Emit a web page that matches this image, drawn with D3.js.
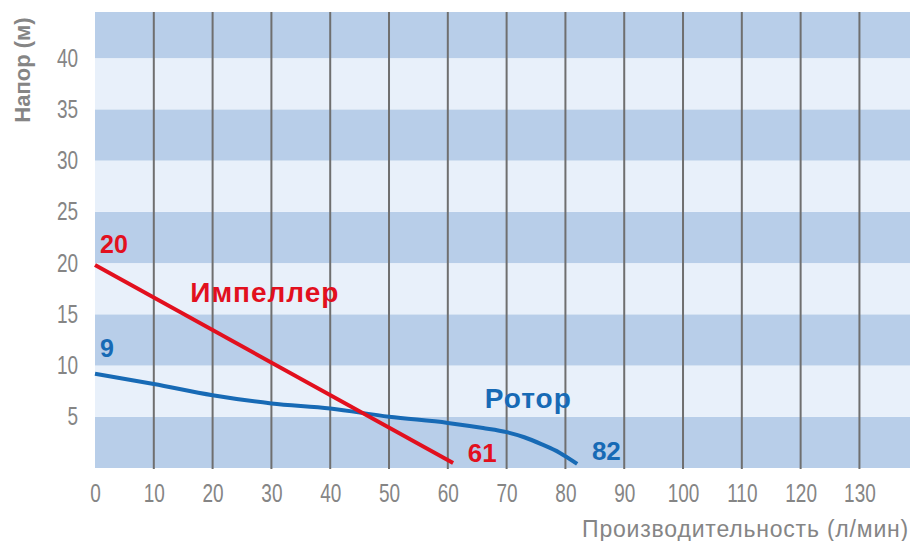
<!DOCTYPE html>
<html>
<head>
<meta charset="utf-8">
<script src="https://cdn.jsdelivr.net/npm/d3@7"></script>
<style>
  html, body { margin: 0; padding: 0; background: #fff; }
  svg { display: block; }
  .tick-label { font-family: "Liberation Sans", Arial, sans-serif; fill: #858585; }
  .curve-label { font-family: "Liberation Sans", Arial, sans-serif; font-weight: bold; }
</style>
</head>
<body>
<svg id="chart" width="912" height="541"></svg>
<script>
// x ticks (л/мин) and y ticks (м)
var xTicks = [0, 10, 20, 30, 40, 50, 60, 70, 80, 90, 100, 110, 120, 130];
var yTicks = [5, 10, 15, 20, 25, 30, 35, 40];
var bandStarts = [0, 5, 10, 15, 20, 25, 30, 35, 40];

// impeller curve
var impFlow = [0, 60.9];
var impHead = [19.8, 0.5];

// rotor curve
var rotFlow = [0, 10, 20, 30, 40, 50, 60, 66, 70, 73, 76, 79, 82];
var rotHead = [9.2, 8.2, 7.1, 6.3, 5.8, 5.0, 4.4, 3.9, 3.5, 3.0, 2.3, 1.5, 0.4];

var W = 912, H = 541;
var pad = {left: 95, right: 2, top: 12, bottom: 73};
var narrow = 0.76;

var svg = d3.select("#chart");

var x = d3.scaleLinear()
  .domain([0, 138.6])
  .range([pad.left, W - pad.right]);

var y = d3.scaleLinear()
  .domain([0, 44.5])
  .range([H - pad.bottom, pad.top]);

// striped background
svg.selectAll("rect.band")
  .data(bandStarts)
  .enter()
  .append("rect")
  .attr("class", "band")
  .attr("x", x(0))
  .attr("width", x.range()[1] - x(0))
  .attr("y", function(d) { return y(Math.min(d + 5, y.domain()[1])); })
  .attr("height", function(d) { return y(d) - y(Math.min(d + 5, y.domain()[1])); })
  .attr("fill", function(d) { return (d / 5) % 2 === 0 ? "#b8cee9" : "#e8f0fa"; });

// vertical grid
svg.selectAll("line.grid")
  .data(xTicks.filter(function(d) { return d > 0; }))
  .enter()
  .append("line")
  .attr("class", "grid")
  .attr("x1", function(d) { return x(d); })
  .attr("x2", function(d) { return x(d); })
  .attr("y1", y.range()[1])
  .attr("y2", y(0) + 1)
  .attr("stroke", "#6f6f6f")
  .attr("stroke-width", 2);

// axes
var xAxis = d3.axisBottom(x).tickValues(xTicks).tickSize(0).tickPadding(16);
var yAxis = d3.axisLeft(y).tickValues(yTicks).tickSize(0).tickPadding(17);

var gx = svg.append("g")
  .attr("transform", "translate(0," + y(0) + ")")
  .call(xAxis);
var gy = svg.append("g")
  .attr("transform", "translate(" + x(0) + ",0)")
  .call(yAxis);

[gx, gy].forEach(function(g) {
  g.select(".domain").remove();
  g.selectAll("text")
    .attr("class", "tick-label")
    .attr("font-size", 25)
    .attr("fill", "#858585")
    .attr("transform", "scale(" + narrow + ",1)");
});
// keep y labels right edge after squeezing
gy.selectAll("text").attr("x", -17 / narrow);

// axis titles
svg.append("text")
  .attr("class", "tick-label")
  .attr("transform", "translate(30,70) rotate(-90)")
  .attr("text-anchor", "middle")
  .attr("font-size", 22)
  .attr("font-weight", "bold")
  .text("Напор (м)");

svg.append("text")
  .attr("class", "tick-label")
  .attr("x", 909)
  .attr("y", 537)
  .attr("text-anchor", "end")
  .attr("font-size", 23)
  .attr("letter-spacing", 0.8)
  .text("Производительность (л/мин)");

// curves
var line = d3.line()
  .x(function(d) { return x(d[0]); })
  .y(function(d) { return y(d[1]); });

svg.append("path")
  .datum(d3.zip(rotFlow, rotHead))
  .attr("d", line.curve(d3.curveMonotoneX))
  .attr("fill", "none")
  .attr("stroke", "#176ab5")
  .attr("stroke-width", 4);

svg.append("path")
  .datum(d3.zip(impFlow, impHead))
  .attr("d", line.curve(d3.curveLinear))
  .attr("fill", "none")
  .attr("stroke", "#e2101e")
  .attr("stroke-width", 4);

// curve labels
var red = "#e2101e", blue = "#176ab5";
var labels = [
  {t: "20", fx: 0.85, fy: 21.0, c: red, s: 25, ls: 0},
  {t: "Импеллер", fx: 16.2, fy: 16.2, c: red, s: 28, ls: 1},
  {t: "61", fx: 63.4, fy: 0.6, c: red, s: 26, ls: 0},
  {t: "9", fx: 0.85, fy: 10.8, c: blue, s: 25, ls: 0},
  {t: "Ротор", fx: 66.3, fy: 5.86, c: blue, s: 28, ls: 1},
  {t: "82", fx: 84.5, fy: 0.8, c: blue, s: 26, ls: 0}
];
svg.selectAll("text.curve-label")
  .data(labels)
  .enter()
  .append("text")
  .attr("class", "curve-label")
  .attr("x", function(d) { return x(d.fx); })
  .attr("y", function(d) { return y(d.fy); })
  .attr("font-size", function(d) { return d.s; })
  .attr("letter-spacing", function(d) { return d.ls; })
  .attr("fill", function(d) { return d.c; })
  .text(function(d) { return d.t; });
</script>
</body>
</html>
